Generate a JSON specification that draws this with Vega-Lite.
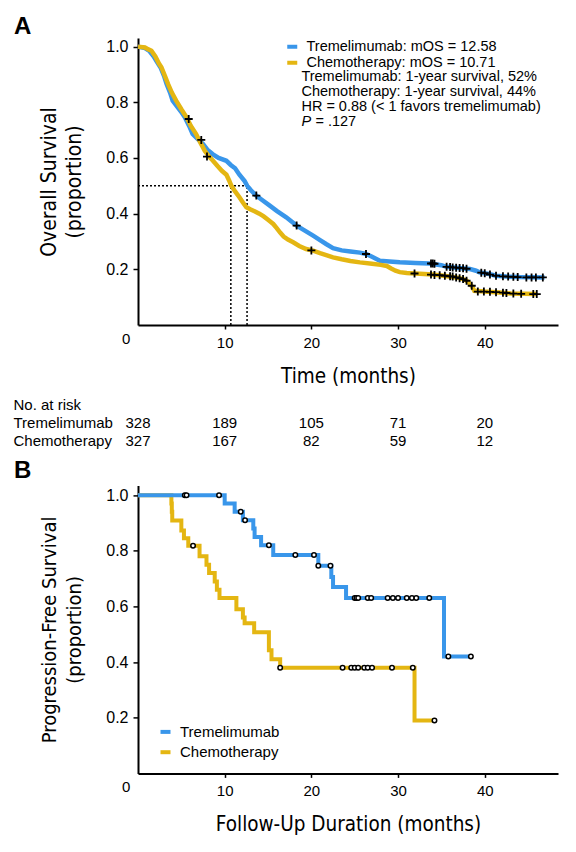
{
  "$schema": "https://vega.github.io/schema/vega-lite/v6.json",
  "background": "white",
  "padding": {"left": 13, "top": 14, "right": 5, "bottom": 5},
  "spacing": 8.7,
  "datasets": {
    "osA": [
      {"series": "Tremelimumab", "month": 0, "surv": 1.0}, {"series": "Tremelimumab", "month": 0.8, "surv": 0.995}, {"series": "Tremelimumab", "month": 1.3, "surv": 0.985}, {"series": "Tremelimumab", "month": 1.8, "surv": 0.965}, {"series": "Tremelimumab", "month": 2.2, "surv": 0.945}, {"series": "Tremelimumab", "month": 2.6, "surv": 0.925}, {"series": "Tremelimumab", "month": 3.0, "surv": 0.895}, {"series": "Tremelimumab", "month": 3.3, "surv": 0.866}, {"series": "Tremelimumab", "month": 3.7, "surv": 0.835}, {"series": "Tremelimumab", "month": 4.0, "surv": 0.806}, {"series": "Tremelimumab", "month": 4.5, "surv": 0.785}, {"series": "Tremelimumab", "month": 5.0, "surv": 0.765}, {"series": "Tremelimumab", "month": 5.4, "surv": 0.746}, {"series": "Tremelimumab", "month": 5.9, "surv": 0.715}, {"series": "Tremelimumab", "month": 6.3, "surv": 0.686}, {"series": "Tremelimumab", "month": 6.9, "surv": 0.668}, {"series": "Tremelimumab", "month": 7.5, "surv": 0.65}, {"series": "Tremelimumab", "month": 8.0, "surv": 0.63}, {"series": "Tremelimumab", "month": 8.6, "surv": 0.614}, {"series": "Tremelimumab", "month": 9.3, "surv": 0.6}, {"series": "Tremelimumab", "month": 10.2, "surv": 0.59}, {"series": "Tremelimumab", "month": 10.7, "surv": 0.575}, {"series": "Tremelimumab", "month": 11.2, "surv": 0.563}, {"series": "Tremelimumab", "month": 11.7, "surv": 0.54}, {"series": "Tremelimumab", "month": 12.3, "surv": 0.517}, {"series": "Tremelimumab", "month": 12.6, "surv": 0.5}, {"series": "Tremelimumab", "month": 13.0, "surv": 0.485}, {"series": "Tremelimumab", "month": 13.6, "surv": 0.466}, {"series": "Tremelimumab", "month": 14.2, "surv": 0.452}, {"series": "Tremelimumab", "month": 15.2, "surv": 0.429}, {"series": "Tremelimumab", "month": 16.0, "surv": 0.41}, {"series": "Tremelimumab", "month": 17.1, "surv": 0.387}, {"series": "Tremelimumab", "month": 18.3, "surv": 0.357}, {"series": "Tremelimumab", "month": 19.2, "surv": 0.34}, {"series": "Tremelimumab", "month": 20.2, "surv": 0.321}, {"series": "Tremelimumab", "month": 21.0, "surv": 0.305}, {"series": "Tremelimumab", "month": 21.7, "surv": 0.291}, {"series": "Tremelimumab", "month": 22.5, "surv": 0.276}, {"series": "Tremelimumab", "month": 23.5, "surv": 0.268}, {"series": "Tremelimumab", "month": 24.5, "surv": 0.264}, {"series": "Tremelimumab", "month": 25.6, "surv": 0.26}, {"series": "Tremelimumab", "month": 26.3, "surv": 0.255}, {"series": "Tremelimumab", "month": 27.0, "surv": 0.245}, {"series": "Tremelimumab", "month": 27.9, "surv": 0.231}, {"series": "Tremelimumab", "month": 29.0, "surv": 0.228}, {"series": "Tremelimumab", "month": 30.2, "surv": 0.225}, {"series": "Tremelimumab", "month": 32.0, "surv": 0.223}, {"series": "Tremelimumab", "month": 33.6, "surv": 0.221}, {"series": "Tremelimumab", "month": 35.0, "surv": 0.215}, {"series": "Tremelimumab", "month": 35.6, "surv": 0.209}, {"series": "Tremelimumab", "month": 37.0, "surv": 0.205}, {"series": "Tremelimumab", "month": 38.3, "surv": 0.201}, {"series": "Tremelimumab", "month": 39.0, "surv": 0.195}, {"series": "Tremelimumab", "month": 39.4, "surv": 0.189}, {"series": "Tremelimumab", "month": 40.5, "surv": 0.183}, {"series": "Tremelimumab", "month": 41.3, "surv": 0.177}, {"series": "Tremelimumab", "month": 42.5, "surv": 0.174}, {"series": "Tremelimumab", "month": 44.0, "surv": 0.172}, {"series": "Tremelimumab", "month": 46.9, "surv": 0.171},
      {"series": "Chemotherapy", "month": 0, "surv": 1.0}, {"series": "Chemotherapy", "month": 0.8, "surv": 0.997}, {"series": "Chemotherapy", "month": 1.2, "surv": 0.99}, {"series": "Chemotherapy", "month": 1.55, "surv": 0.985}, {"series": "Chemotherapy", "month": 2.0, "surv": 0.965}, {"series": "Chemotherapy", "month": 2.4, "surv": 0.94}, {"series": "Chemotherapy", "month": 2.7, "surv": 0.926}, {"series": "Chemotherapy", "month": 3.1, "surv": 0.895}, {"series": "Chemotherapy", "month": 3.46, "surv": 0.866}, {"series": "Chemotherapy", "month": 3.9, "surv": 0.835}, {"series": "Chemotherapy", "month": 4.4, "surv": 0.806}, {"series": "Chemotherapy", "month": 5.0, "surv": 0.775}, {"series": "Chemotherapy", "month": 5.6, "surv": 0.746}, {"series": "Chemotherapy", "month": 6.1, "surv": 0.715}, {"series": "Chemotherapy", "month": 6.7, "surv": 0.686}, {"series": "Chemotherapy", "month": 7.2, "surv": 0.655}, {"series": "Chemotherapy", "month": 7.7, "surv": 0.626}, {"series": "Chemotherapy", "month": 8.2, "surv": 0.605}, {"series": "Chemotherapy", "month": 8.65, "surv": 0.59}, {"series": "Chemotherapy", "month": 9.2, "surv": 0.57}, {"series": "Chemotherapy", "month": 9.7, "surv": 0.553}, {"series": "Chemotherapy", "month": 10.2, "surv": 0.54}, {"series": "Chemotherapy", "month": 10.5, "surv": 0.52}, {"series": "Chemotherapy", "month": 10.77, "surv": 0.5}, {"series": "Chemotherapy", "month": 11.2, "surv": 0.48}, {"series": "Chemotherapy", "month": 11.7, "surv": 0.459}, {"series": "Chemotherapy", "month": 12.1, "surv": 0.44}, {"series": "Chemotherapy", "month": 12.5, "surv": 0.423}, {"series": "Chemotherapy", "month": 13.0, "surv": 0.415}, {"series": "Chemotherapy", "month": 13.5, "surv": 0.408}, {"series": "Chemotherapy", "month": 14.0, "surv": 0.4}, {"series": "Chemotherapy", "month": 14.5, "surv": 0.39}, {"series": "Chemotherapy", "month": 15.0, "surv": 0.378}, {"series": "Chemotherapy", "month": 15.6, "surv": 0.363}, {"series": "Chemotherapy", "month": 16.0, "surv": 0.348}, {"series": "Chemotherapy", "month": 16.4, "surv": 0.332}, {"series": "Chemotherapy", "month": 16.8, "surv": 0.318}, {"series": "Chemotherapy", "month": 17.3, "surv": 0.307}, {"series": "Chemotherapy", "month": 17.9, "surv": 0.297}, {"series": "Chemotherapy", "month": 18.6, "surv": 0.284}, {"series": "Chemotherapy", "month": 19.4, "surv": 0.273}, {"series": "Chemotherapy", "month": 20.2, "surv": 0.267}, {"series": "Chemotherapy", "month": 21.0, "surv": 0.258}, {"series": "Chemotherapy", "month": 21.8, "surv": 0.25}, {"series": "Chemotherapy", "month": 22.5, "surv": 0.243}, {"series": "Chemotherapy", "month": 23.5, "surv": 0.236}, {"series": "Chemotherapy", "month": 24.5, "surv": 0.23}, {"series": "Chemotherapy", "month": 25.6, "surv": 0.225}, {"series": "Chemotherapy", "month": 27.0, "surv": 0.22}, {"series": "Chemotherapy", "month": 28.0, "surv": 0.216}, {"series": "Chemotherapy", "month": 28.7, "surv": 0.212}, {"series": "Chemotherapy", "month": 29.2, "surv": 0.203}, {"series": "Chemotherapy", "month": 29.7, "surv": 0.195}, {"series": "Chemotherapy", "month": 30.2, "surv": 0.19}, {"series": "Chemotherapy", "month": 31.0, "surv": 0.187}, {"series": "Chemotherapy", "month": 32.5, "surv": 0.184}, {"series": "Chemotherapy", "month": 34.0, "surv": 0.181}, {"series": "Chemotherapy", "month": 35.5, "surv": 0.176}, {"series": "Chemotherapy", "month": 36.7, "surv": 0.171}, {"series": "Chemotherapy", "month": 37.5, "surv": 0.165}, {"series": "Chemotherapy", "month": 37.9, "surv": 0.159}, {"series": "Chemotherapy", "month": 38.3, "surv": 0.148}, {"series": "Chemotherapy", "month": 38.6, "surv": 0.135}, {"series": "Chemotherapy", "month": 38.8, "surv": 0.123}, {"series": "Chemotherapy", "month": 40.0, "surv": 0.12}, {"series": "Chemotherapy", "month": 41.7, "surv": 0.117}, {"series": "Chemotherapy", "month": 43.0, "surv": 0.113}, {"series": "Chemotherapy", "month": 46.0, "surv": 0.111}
    ],
    "censA": [
      {"series": "Tremelimumab", "month": 13.65, "surv": 0.465}, {"series": "Tremelimumab", "month": 18.3, "surv": 0.357}, {"series": "Tremelimumab", "month": 26.3, "surv": 0.255}, {"series": "Tremelimumab", "month": 33.8, "surv": 0.221}, {"series": "Tremelimumab", "month": 34.0, "surv": 0.221}, {"series": "Tremelimumab", "month": 34.2, "surv": 0.22}, {"series": "Tremelimumab", "month": 35.6, "surv": 0.209}, {"series": "Tremelimumab", "month": 36.0, "surv": 0.208}, {"series": "Tremelimumab", "month": 36.3, "surv": 0.207}, {"series": "Tremelimumab", "month": 36.7, "surv": 0.206}, {"series": "Tremelimumab", "month": 37.1, "surv": 0.205}, {"series": "Tremelimumab", "month": 37.5, "surv": 0.204}, {"series": "Tremelimumab", "month": 37.9, "surv": 0.202}, {"series": "Tremelimumab", "month": 39.6, "surv": 0.188}, {"series": "Tremelimumab", "month": 40.0, "surv": 0.186}, {"series": "Tremelimumab", "month": 40.6, "surv": 0.181}, {"series": "Tremelimumab", "month": 41.3, "surv": 0.177}, {"series": "Tremelimumab", "month": 42.1, "surv": 0.175}, {"series": "Tremelimumab", "month": 42.7, "surv": 0.174}, {"series": "Tremelimumab", "month": 43.3, "surv": 0.173}, {"series": "Tremelimumab", "month": 43.8, "surv": 0.172}, {"series": "Tremelimumab", "month": 44.8, "surv": 0.171}, {"series": "Tremelimumab", "month": 45.4, "surv": 0.171}, {"series": "Tremelimumab", "month": 45.9, "surv": 0.171}, {"series": "Tremelimumab", "month": 46.7, "surv": 0.171},
      {"series": "Chemotherapy", "month": 5.85, "surv": 0.74}, {"series": "Chemotherapy", "month": 7.3, "surv": 0.665}, {"series": "Chemotherapy", "month": 7.96, "surv": 0.605}, {"series": "Chemotherapy", "month": 20.0, "surv": 0.268}, {"series": "Chemotherapy", "month": 31.9, "surv": 0.185}, {"series": "Chemotherapy", "month": 33.8, "surv": 0.181}, {"series": "Chemotherapy", "month": 34.2, "surv": 0.18}, {"series": "Chemotherapy", "month": 34.8, "surv": 0.179}, {"series": "Chemotherapy", "month": 35.4, "surv": 0.177}, {"series": "Chemotherapy", "month": 36.0, "surv": 0.175}, {"series": "Chemotherapy", "month": 36.3, "surv": 0.174}, {"series": "Chemotherapy", "month": 36.7, "surv": 0.171}, {"series": "Chemotherapy", "month": 37.1, "surv": 0.168}, {"series": "Chemotherapy", "month": 37.5, "surv": 0.165}, {"series": "Chemotherapy", "month": 37.9, "surv": 0.159}, {"series": "Chemotherapy", "month": 38.5, "surv": 0.141}, {"series": "Chemotherapy", "month": 39.2, "surv": 0.12}, {"series": "Chemotherapy", "month": 39.9, "surv": 0.12}, {"series": "Chemotherapy", "month": 40.6, "surv": 0.119}, {"series": "Chemotherapy", "month": 41.3, "surv": 0.118}, {"series": "Chemotherapy", "month": 42.1, "surv": 0.116}, {"series": "Chemotherapy", "month": 42.5, "surv": 0.115}, {"series": "Chemotherapy", "month": 43.3, "surv": 0.113}, {"series": "Chemotherapy", "month": 44.2, "surv": 0.112}, {"series": "Chemotherapy", "month": 45.6, "surv": 0.111}, {"series": "Chemotherapy", "month": 46.0, "surv": 0.111}
    ],
    "medians": [
      {"month": 0, "month_end": 12.58, "surv": 0.5, "surv_end": 0.5},
      {"month": 10.71, "month_end": 10.71, "surv": 0, "surv_end": 0.5},
      {"month": 12.58, "month_end": 12.58, "surv": 0, "surv_end": 0.5}
    ],
    "notes": [
      {"note": "Tremelimumab: 1-year survival, 52%"},
      {"note": "Chemotherapy: 1-year survival, 44%"},
      {"note": "HR = 0.88 (< 1 favors tremelimumab)"}
    ],
    "risk": [
      {"group": "Tremelimumab", "month": 0, "n": 328}, {"group": "Tremelimumab", "month": 10, "n": 189}, {"group": "Tremelimumab", "month": 20, "n": 105}, {"group": "Tremelimumab", "month": 30, "n": 71}, {"group": "Tremelimumab", "month": 40, "n": 20},
      {"group": "Chemotherapy", "month": 0, "n": 327}, {"group": "Chemotherapy", "month": 10, "n": 167}, {"group": "Chemotherapy", "month": 20, "n": 82}, {"group": "Chemotherapy", "month": 30, "n": 59}, {"group": "Chemotherapy", "month": 40, "n": 12}
    ],
    "pfsB": [
      {"series": "Tremelimumab", "month": 0, "surv": 1.0}, {"series": "Tremelimumab", "month": 10.0, "surv": 0.97}, {"series": "Tremelimumab", "month": 11.15, "surv": 0.94}, {"series": "Tremelimumab", "month": 12.1, "surv": 0.91}, {"series": "Tremelimumab", "month": 13.3, "surv": 0.88}, {"series": "Tremelimumab", "month": 13.45, "surv": 0.85}, {"series": "Tremelimumab", "month": 14.2, "surv": 0.82}, {"series": "Tremelimumab", "month": 15.6, "surv": 0.785}, {"series": "Tremelimumab", "month": 20.8, "surv": 0.746}, {"series": "Tremelimumab", "month": 22.3, "surv": 0.706}, {"series": "Tremelimumab", "month": 22.5, "surv": 0.67}, {"series": "Tremelimumab", "month": 24.0, "surv": 0.63}, {"series": "Tremelimumab", "month": 35.3, "surv": 0.42}, {"series": "Tremelimumab", "month": 38.4, "surv": 0.42},
      {"series": "Chemotherapy", "month": 0, "surv": 1.0}, {"series": "Chemotherapy", "month": 3.85, "surv": 0.97}, {"series": "Chemotherapy", "month": 3.9, "surv": 0.94}, {"series": "Chemotherapy", "month": 3.95, "surv": 0.909}, {"series": "Chemotherapy", "month": 5.0, "surv": 0.873}, {"series": "Chemotherapy", "month": 5.3, "surv": 0.845}, {"series": "Chemotherapy", "month": 5.8, "surv": 0.818}, {"series": "Chemotherapy", "month": 7.1, "surv": 0.78}, {"series": "Chemotherapy", "month": 7.9, "surv": 0.75}, {"series": "Chemotherapy", "month": 8.2, "surv": 0.72}, {"series": "Chemotherapy", "month": 8.85, "surv": 0.69}, {"series": "Chemotherapy", "month": 9.1, "surv": 0.66}, {"series": "Chemotherapy", "month": 9.4, "surv": 0.63}, {"series": "Chemotherapy", "month": 11.35, "surv": 0.59}, {"series": "Chemotherapy", "month": 12.1, "surv": 0.56}, {"series": "Chemotherapy", "month": 12.3, "surv": 0.54}, {"series": "Chemotherapy", "month": 13.4, "surv": 0.507}, {"series": "Chemotherapy", "month": 15.1, "surv": 0.443}, {"series": "Chemotherapy", "month": 15.4, "surv": 0.41}, {"series": "Chemotherapy", "month": 16.4, "surv": 0.38}, {"series": "Chemotherapy", "month": 31.9, "surv": 0.19}, {"series": "Chemotherapy", "month": 34.2, "surv": 0.19}
    ],
    "censB": [
      {"series": "Tremelimumab", "month": 5.4, "surv": 1.0}, {"series": "Tremelimumab", "month": 5.6, "surv": 1.0}, {"series": "Tremelimumab", "month": 9.35, "surv": 1.0}, {"series": "Tremelimumab", "month": 11.85, "surv": 0.94}, {"series": "Tremelimumab", "month": 12.35, "surv": 0.91}, {"series": "Tremelimumab", "month": 15.1, "surv": 0.82}, {"series": "Tremelimumab", "month": 18.15, "surv": 0.785}, {"series": "Tremelimumab", "month": 20.3, "surv": 0.785}, {"series": "Tremelimumab", "month": 20.8, "surv": 0.746}, {"series": "Tremelimumab", "month": 22.2, "surv": 0.746}, {"series": "Tremelimumab", "month": 25.0, "surv": 0.63}, {"series": "Tremelimumab", "month": 25.2, "surv": 0.63}, {"series": "Tremelimumab", "month": 25.4, "surv": 0.63}, {"series": "Tremelimumab", "month": 26.5, "surv": 0.63}, {"series": "Tremelimumab", "month": 26.9, "surv": 0.63}, {"series": "Tremelimumab", "month": 28.8, "surv": 0.63}, {"series": "Tremelimumab", "month": 29.4, "surv": 0.63}, {"series": "Tremelimumab", "month": 30.0, "surv": 0.63}, {"series": "Tremelimumab", "month": 31.0, "surv": 0.63}, {"series": "Tremelimumab", "month": 31.6, "surv": 0.63}, {"series": "Tremelimumab", "month": 32.1, "surv": 0.63}, {"series": "Tremelimumab", "month": 33.6, "surv": 0.63}, {"series": "Tremelimumab", "month": 35.8, "surv": 0.42}, {"series": "Tremelimumab", "month": 38.4, "surv": 0.42},
      {"series": "Chemotherapy", "month": 6.35, "surv": 0.818}, {"series": "Chemotherapy", "month": 16.4, "surv": 0.38}, {"series": "Chemotherapy", "month": 23.6, "surv": 0.38}, {"series": "Chemotherapy", "month": 24.6, "surv": 0.38}, {"series": "Chemotherapy", "month": 25.0, "surv": 0.38}, {"series": "Chemotherapy", "month": 25.4, "surv": 0.38}, {"series": "Chemotherapy", "month": 26.1, "surv": 0.38}, {"series": "Chemotherapy", "month": 26.5, "surv": 0.38}, {"series": "Chemotherapy", "month": 27.0, "surv": 0.38}, {"series": "Chemotherapy", "month": 29.3, "surv": 0.38}, {"series": "Chemotherapy", "month": 31.7, "surv": 0.38}, {"series": "Chemotherapy", "month": 34.2, "surv": 0.19}
    ]
  },
  "vconcat": [
    {
      "width": 420,
      "height": 287,
      "title": {"text": "A", "anchor": "start", "frame": "group", "dx": -124, "offset": -20, "baseline": "alphabetic", "fontSize": 24, "fontWeight": "bold", "font": "Liberation Sans", "color": "black"},
      "layer": [
        {
          "data": {"name": "medians"},
          "mark": {"type": "rule", "color": "black", "strokeWidth": 1.5, "strokeDash": [2, 2]},
          "encoding": {
            "x": {"field": "month", "type": "quantitative", "scale": {"domain": [0, 48.45], "nice": false, "zero": false},
              "axis": {"values": [0, 10, 20, 30, 40], "title": "Time (months)", "labelOffset": {"condition": {"test": "datum.value === 0", "value": -16.6}, "value": 0}, "tickSize": {"condition": {"test": "datum.value === 0", "value": 0}, "value": 4}, "labelPadding": 6, "titlePadding": 16, "titleFontSize": 20.5}},
            "x2": {"field": "month_end"},
            "y": {"field": "surv", "type": "quantitative", "scale": {"domain": [0, 1.031], "nice": false},
              "axis": {"values": [0.2, 0.4, 0.6, 0.8, 1.0], "format": ".1f", "labelFontSize": 16, "title": ["Overall Survival", "(proportion)"], "titlePadding": 21, "titleFontSize": 21}},
            "y2": {"field": "surv_end"}
          }
        },
        {
          "data": {"name": "osA"},
          "transform": [{"filter": "datum.series === 'Tremelimumab'"}],
          "mark": {"type": "line", "strokeWidth": 4.5, "interpolate": "linear"},
          "encoding": {
            "x": {"field": "month", "type": "quantitative"},
            "y": {"field": "surv", "type": "quantitative"},
            "color": {"field": "series", "type": "nominal", "scale": {"domain": ["Tremelimumab", "Chemotherapy"], "range": ["#3996EA", "#E4B612"]},
              "legend": {"orient": "none", "legendX": 147, "legendY": 1.5, "title": null, "symbolType": "stroke", "symbolSize": 100, "symbolStrokeWidth": 4, "labelFontSize": 14.5, "rowPadding": -2.8, "labelOffset": 7, "labelLimit": 400,
                "labelExpr": "datum.label === 'Tremelimumab' ? 'Tremelimumab: mOS = 12.58' : 'Chemotherapy: mOS = 10.71'"}}
          }
        },
        {
          "data": {"name": "osA"},
          "transform": [{"filter": "datum.series === 'Chemotherapy'"}],
          "mark": {"type": "line", "strokeWidth": 4.5, "interpolate": "linear"},
          "encoding": {
            "x": {"field": "month", "type": "quantitative"},
            "y": {"field": "surv", "type": "quantitative"},
            "color": {"field": "series", "type": "nominal"}
          }
        },
        {
          "data": {"name": "censA"},
          "mark": {"type": "point", "shape": "M-1,0H1M0,-1V1", "size": 64, "stroke": "black", "strokeWidth": 1.8, "filled": false, "opacity": 1},
          "encoding": {
            "x": {"field": "month", "type": "quantitative"},
            "y": {"field": "surv", "type": "quantitative"}
          }
        },
        {
          "data": {"name": "notes"},
          "transform": [{"window": [{"op": "row_number", "as": "k"}]}],
          "mark": {"type": "text", "align": "left", "baseline": "middle", "fontSize": 14.5, "color": "black"},
          "encoding": {
            "x": {"datum": 18.85, "type": "quantitative"},
            "y": {"datum": 0.8897, "type": "quantitative"},
            "yOffset": {"field": "k", "type": "quantitative", "scale": {"domain": [1, 3], "range": [0, 30]}},
            "text": {"field": "note", "type": "nominal"}
          }
        },
        {
          "data": {"values": [{"note": "P"}]},
          "mark": {"type": "text", "align": "left", "baseline": "middle", "fontSize": 14.5, "fontStyle": "italic", "color": "black"},
          "encoding": {
            "x": {"datum": 18.85, "type": "quantitative"},
            "y": {"datum": 0.728, "type": "quantitative"},
            "text": {"field": "note", "type": "nominal"}
          }
        },
        {
          "data": {"values": [{"note": "= .127"}]},
          "mark": {"type": "text", "align": "left", "baseline": "middle", "fontSize": 14.5, "dx": 14, "color": "black"},
          "encoding": {
            "x": {"datum": 18.85, "type": "quantitative"},
            "y": {"datum": 0.728, "type": "quantitative"},
            "text": {"field": "note", "type": "nominal"}
          }
        }
      ]
    },
    {
      "width": 420,
      "height": 54,
      "data": {"name": "risk"},
      "mark": {"type": "text", "fontSize": 15, "align": "center", "baseline": "middle", "color": "black"},
      "encoding": {
        "x": {"field": "month", "type": "quantitative", "scale": {"domain": [0, 48.45], "nice": false, "zero": false}, "axis": null},
        "y": {"field": "group", "type": "nominal", "scale": {"domain": ["No. at risk", "Tremelimumab", "Chemotherapy"], "paddingInner": 0, "paddingOuter": 0},
          "axis": {"title": null, "domain": false, "ticks": false, "labelAlign": "left", "labelPadding": 125, "labelFontSize": 15}},
        "text": {"field": "n", "type": "quantitative"}
      }
    },
    {
      "width": 420,
      "height": 288,
      "title": {"text": "B", "anchor": "start", "frame": "group", "dx": -124, "offset": -16.7, "baseline": "alphabetic", "fontSize": 24, "fontWeight": "bold", "font": "Liberation Sans", "color": "black"},
      "layer": [
        {
          "data": {"name": "pfsB"},
          "transform": [{"filter": "datum.series === 'Chemotherapy'"}],
          "mark": {"type": "line", "strokeWidth": 4, "interpolate": "step-after"},
          "encoding": {
            "x": {"field": "month", "type": "quantitative", "scale": {"domain": [0, 48.45], "nice": false, "zero": false},
              "axis": {"values": [0, 10, 20, 30, 40], "title": "Follow-Up Duration (months)", "labelOffset": {"condition": {"test": "datum.value === 0", "value": -16.6}, "value": 0}, "tickSize": {"condition": {"test": "datum.value === 0", "value": 0}, "value": 4}, "labelPadding": 6, "titlePadding": 16, "titleFontSize": 20.5}},
            "y": {"field": "surv", "type": "quantitative", "scale": {"domain": [0, 1.035], "nice": false},
              "axis": {"values": [0.2, 0.4, 0.6, 0.8, 1.0], "format": ".1f", "labelFontSize": 16, "title": ["Progression-Free Survival", "(proportion)"], "titlePadding": 21, "titleFontSize": 20}},
            "color": {"field": "series", "type": "nominal", "scale": {"domain": ["Tremelimumab", "Chemotherapy"], "range": ["#3996EA", "#E4B612"]},
              "legend": {"orient": "none", "legendX": 20, "legendY": 239, "title": null, "symbolType": "stroke", "symbolSize": 100, "symbolStrokeWidth": 4, "labelFontSize": 15, "rowPadding": 3.3, "labelOffset": 7}}
          }
        },
        {
          "data": {"name": "pfsB"},
          "transform": [{"filter": "datum.series === 'Tremelimumab'"}],
          "mark": {"type": "line", "strokeWidth": 4, "interpolate": "step-after"},
          "encoding": {
            "x": {"field": "month", "type": "quantitative"},
            "y": {"field": "surv", "type": "quantitative"},
            "color": {"field": "series", "type": "nominal"}
          }
        },
        {
          "data": {"name": "censB"},
          "mark": {"type": "point", "shape": "circle", "size": 20, "stroke": "black", "strokeWidth": 1.5, "fill": "white", "filled": true, "opacity": 1},
          "encoding": {
            "x": {"field": "month", "type": "quantitative"},
            "y": {"field": "surv", "type": "quantitative"}
          }
        }
      ]
    }
  ],
  "resolve": {"scale": {"x": "independent", "y": "independent", "color": "independent"}, "legend": {"color": "independent"}},
  "config": {
    "view": {"stroke": null},
    "font": "Liberation Sans",
    "axis": {"grid": false, "domainColor": "black", "domainWidth": 2, "tickColor": "black", "tickWidth": 1.5, "tickSize": 5, "labelPadding": 5, "labelColor": "black", "labelFont": "Liberation Sans", "labelFontSize": 15, "titleColor": "black", "titleFont": "Liberation Sans Narrow, DejaVu Sans Condensed, Roboto", "titleFontSize": 22, "titleFontWeight": "normal", "titleLineHeight": 25},
    "legend": {"labelFont": "Liberation Sans", "labelColor": "black", "padding": 0},
    "text": {"font": "Liberation Sans"}
  }
}
